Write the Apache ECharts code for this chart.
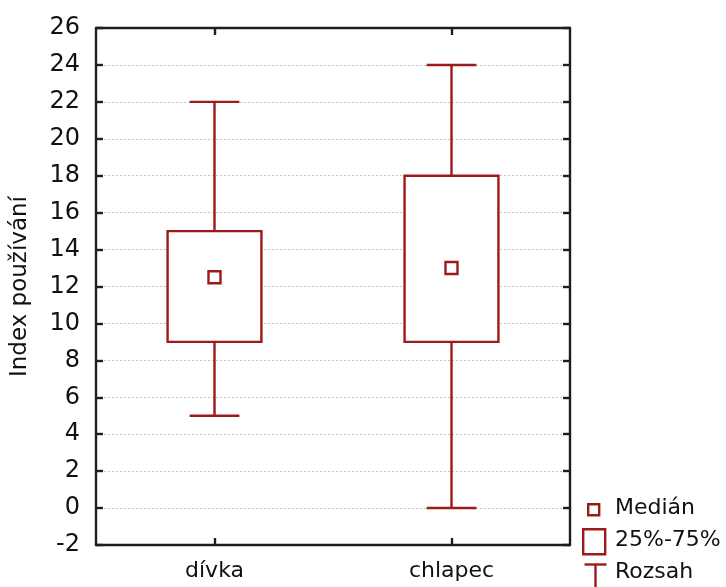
<!DOCTYPE html>
<html>
<head>
<meta charset="utf-8">
<script src="https://cdn.jsdelivr.net/npm/echarts@6/dist/echarts.min.js"></script>
<style>
  html, body { margin: 0; padding: 0; background: #fff; }
  #chart { width: 726px; height: 587px; }
</style>
</head>
<body>
<div id="chart"></div>
<script>
// Index používání by gender: range, quartiles and median
const categories = ['dívka', 'chlapec'];
const minVals = [5, 0];
const q1Vals = [9, 9];
const medianVals = [12.5, 13];
const q3Vals = [15, 18];
const maxVals = [22, 24];
const yTicks = { min: -2, max: 26, step: 2 };
const legendLabels = ['Medián', '25%-75%', 'Rozsah'];

const RED = '#9c1a1a';
const AXIS = '#1e1e1e';
const FONT = 'DejaVu Sans';
const LW = 2.4;

const boxData = categories.map((c, i) => [i, minVals[i], q1Vals[i], medianVals[i], q3Vals[i], maxVals[i]]);

function renderBox(params, api) {
  const idx = api.value(0);
  const band = api.size([1, 0])[0];
  const boxHalf = band * 0.198;
  const capHalf = band * 0.105;
  const pMin = api.coord([idx, api.value(1)]);
  const pQ1 = api.coord([idx, api.value(2)]);
  const pMed = api.coord([idx, api.value(3)]);
  const pQ3 = api.coord([idx, api.value(4)]);
  const pMax = api.coord([idx, api.value(5)]);
  const cx = pMed[0];
  const lineStyle = { stroke: RED, lineWidth: LW, fill: null };
  const m = 6;
  return {
    type: 'group',
    children: [
      { type: 'line', shape: { x1: cx, y1: pMax[1], x2: cx, y2: pQ3[1] }, style: lineStyle },
      { type: 'line', shape: { x1: cx, y1: pQ1[1], x2: cx, y2: pMin[1] }, style: lineStyle },
      { type: 'line', shape: { x1: cx - capHalf, y1: pMax[1], x2: cx + capHalf, y2: pMax[1] }, style: lineStyle },
      { type: 'line', shape: { x1: cx - capHalf, y1: pMin[1], x2: cx + capHalf, y2: pMin[1] }, style: lineStyle },
      { type: 'rect', shape: { x: cx - boxHalf, y: pQ3[1], width: boxHalf * 2, height: pQ1[1] - pQ3[1] },
        style: { stroke: RED, lineWidth: LW, fill: '#fff' } },
      { type: 'rect', shape: { x: cx - m, y: pMed[1] - m, width: 2 * m, height: 2 * m },
        style: { stroke: RED, lineWidth: LW, fill: '#fff' } }
    ]
  };
}

const chart = echarts.init(document.getElementById('chart'), null, { renderer: 'canvas' });

const legendText = { fill: '#111', font: '22px "' + FONT + '"', textVerticalAlign: 'middle' };
const frameLine = { show: true, onZero: false, lineStyle: { color: AXIS, width: 2.4 } };
const innerTick = { show: true, inside: true, length: 7, lineStyle: { color: AXIS, width: 2.4 } };

chart.setOption({
  animation: false,
  backgroundColor: '#fff',
  grid: { left: 96, right: 156, top: 28, bottom: 42 },
  xAxis: [
    {
      type: 'category', data: categories, position: 'bottom',
      axisLine: frameLine,
      axisTick: Object.assign({ alignWithLabel: true }, innerTick),
      axisLabel: { color: '#111', fontFamily: FONT, fontSize: 22, margin: 15 },
      splitLine: { show: false }
    },
    {
      type: 'category', data: categories, position: 'top',
      axisLine: frameLine,
      axisTick: Object.assign({ alignWithLabel: true }, innerTick),
      axisLabel: { show: false }
    }
  ],
  yAxis: [
    {
      type: 'value', min: yTicks.min, max: yTicks.max, interval: yTicks.step, position: 'left',
      name: 'Index používání', nameLocation: 'middle', nameGap: 64, nameRotate: 90,
      nameTextStyle: { color: '#111', fontFamily: FONT, fontSize: 23 },
      axisLine: frameLine,
      axisTick: innerTick,
      axisLabel: { color: '#111', fontFamily: FONT, fontSize: 24, margin: 16 },
      splitLine: { show: true, lineStyle: { color: '#c4c4c4', type: [2, 2], width: 1 } }
    },
    {
      type: 'value', min: yTicks.min, max: yTicks.max, interval: yTicks.step, position: 'right',
      axisLine: frameLine,
      axisTick: innerTick,
      axisLabel: { show: false },
      splitLine: { show: false }
    }
  ],
  series: [{
    type: 'custom',
    name: 'box',
    xAxisIndex: 0,
    yAxisIndex: 0,
    data: boxData,
    encode: { x: 0, y: [1, 2, 3, 4, 5] },
    renderItem: renderBox,
    clip: false,
    z: 3
  }],
  graphic: [
    { type: 'rect', left: 587, top: 503, shape: { width: 11, height: 11 }, style: { stroke: RED, lineWidth: LW, fill: '#fff' } },
    { type: 'text', left: 615, top: 497, style: Object.assign({ text: legendLabels[0] }, legendText) },
    { type: 'rect', left: 582, top: 528, shape: { width: 22, height: 25 }, style: { stroke: RED, lineWidth: LW, fill: '#fff' } },
    { type: 'text', left: 615, top: 529, style: Object.assign({ text: legendLabels[1] }, legendText) },
    { type: 'group', left: 582, top: 562, children: [
      { type: 'line', shape: { x1: 0, y1: 1, x2: 22, y2: 1 }, style: { stroke: RED, lineWidth: LW } },
      { type: 'line', shape: { x1: 11, y1: 1, x2: 11, y2: 25 }, style: { stroke: RED, lineWidth: LW } },
      { type: 'line', shape: { x1: 0, y1: 25, x2: 22, y2: 25 }, style: { stroke: RED, lineWidth: LW } }
    ] },
    { type: 'text', left: 615, top: 561, style: Object.assign({ text: legendLabels[2] }, legendText) }
  ]
});
</script>
</body>
</html>
